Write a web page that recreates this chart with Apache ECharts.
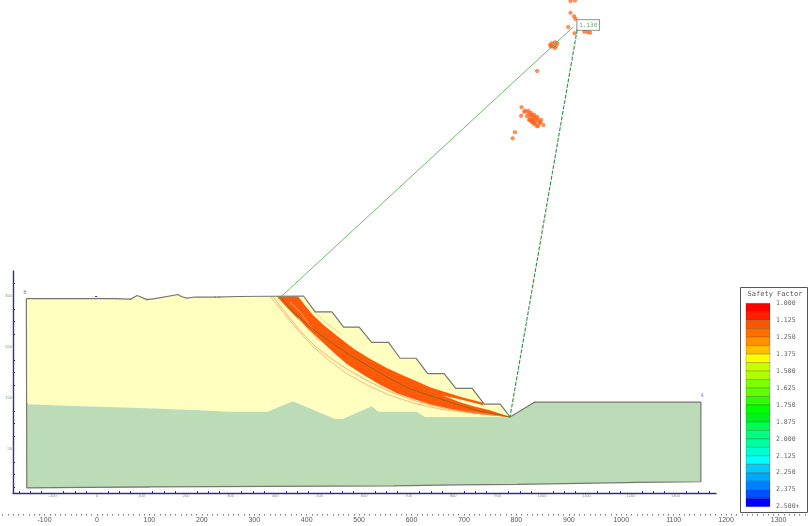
<!DOCTYPE html>
<html>
<head>
<meta charset="utf-8">
<title>Safety factor</title>
<style>
  html, body { margin: 0; padding: 0; background: #fff; }
  #chart { width: 810px; height: 526px; filter: blur(0.4px); }
</style>
<script src="https://cdn.jsdelivr.net/npm/echarts@6/dist/echarts.min.js"></script>
</head>
<body>
<div id="chart"></div>
<script>
// ground surface, left to right (model units)
const groundTop = [[-159,345],[34,345],[76,344],[90,351],[112,343],[130,345],[182,353],[189,349],[202,346],[220,348],[265,348],[317,349],[464,350],[490,319],[528,319],[554,289],[589,289],[617,259],[655,259],[681,228],[717,228],[743,198],[780,198],[806,169],[843,169],[870,138],[906,138],[928,113]];
const groundToe = [[928,113],[983,142],[1357,142]];
const groundBottom = [[1357,142],[1357,-14],[1220,-15],[1085,-17],[943,-19],[808,-20],[665,-22],[389,-23],[119,-24],[117,-26],[-158,-26],[-159,345]];
const layerTop = [[-158,138],[-68,135],[81,131],[231,126],[299,123],[383,123],[440,144],[535,109],[552,109],[617,134],[632,123],[718,123],[737,113],[928,113]];

// slip surfaces
const slipUpper = [[452,349],[467,332],[486,312],[509,293],[539,272],[576,247],[613,227],[651,209],[688,194],[726,180],[748,165],[771,157],[816,142],[846,134],[883,126],[928,113]];
const slipLower = [[876,117],[846,120],[816,124],[748,138],[711,148],[673,160],[636,176],[599,195],[561,217],[531,240],[501,264],[471,289],[445,311],[422,332],[404,349]];
const slipSpur = [[726,180],[748,171],[771,165],[822,151],[868,141],[868,136],[822,146],[771,156],[748,160]];
const outerArcA = [[389,349],[419,317],[449,285],[486,250],[524,222],[561,198],[606,176],[651,158],[711,140],[773,128],[928,113]];
const outerArcB = [[395,349],[425,316],[455,283],[492,250],[530,225],[567,204],[612,182],[657,163],[717,144],[780,130],[928,113]];
const streakA = [[452,307],[474,285],[501,260]];
const streakB = [[434,338],[456,319],[486,283]];
const streakC = [[486,323],[512,299],[550,274]];
const criticalArc = [[411,349],[441,319],[479,289],[524,260],[569,234],[613,211],[658,188],[703,168],[748,155],[778,146],[853,126],[928,113]];

// lines from the critical centre to the ends of the arc
const radiusLeft = [[414,349],[1070,877]];
const radiusRight = [[1079,872],[928,113]];
const centreLabel = [[1079,881]];
const centreText = '1.130';

// slip centres
const centres = [[1064,928],[1074,929],[1064,905],[1072,898],[1075,893],[1059,877],[1073,865],[1095,868],[1102,867],[1108,866],[1018,842],[1022,845],[1029,847],[1034,845],[1024,839],[1029,836],[1020,839],[1031,840],[989,791],[954,720],[962,713],[969,708],[977,705],[984,700],[992,695],[980,694],[973,696],[966,702],[984,689],[977,692],[996,690],[1003,685],[988,683],[953,703],[939,671],[934,659],[960,711],[969,713],[975,709],[982,705],[989,701],[998,695],[973,703],[980,699],[987,695],[994,689],[971,695],[982,687],[991,683],[978,691]];
const vertexDots = [[34,345],[43,345],[76,344],[112,343],[265,348],[274,348],[-158,138],[983,142]];
const endTags = [[-162,356,'8'],[1360,154,'4']];

// inner axes
const innerXMajor = [-100,0,100,200,300,400,500,600,700,800,900,1000,1100,1200,1300];
const innerXMinor = [-175,-150,-125,-75,-50,-25,25,50,75,125,150,175,225,250,275,325,350,375,425,450,475,525,550,575,625,650,675,725,750,775,825,850,875,925,950,975,1025,1050,1075,1125,1150,1175,1225,1250,1275,1325,1350,1375];
const innerYMajor = [50,150,250,350];
const innerYMinor = [-25,0,25,75,100,125,175,200,225,275,300,325,375];

// bottom ruler
const rulerLabels = [-100,0,100,200,300,400,500,600,700,800,900,1000,1100,1200,1300];

// legend
const factorEdges = [1,1.0625,1.125,1.1875,1.25,1.3125,1.375,1.4375,1.5,1.5625,1.625,1.6875,1.75,1.8125,1.875,1.9375,2,2.0625,2.125,2.1875,2.25,2.3125,2.375,2.4375,2.5];
const bandColors = ['#ff0000','#ff2000','#ff5500','#ff7000','#ff9000','#ffc000','#ffff00','#c8ff00','#b0ff00','#80ff00','#60ff00','#30ff00','#00ff00','#00f020','#00ff50','#00ff80','#00ffa0','#00ffd0','#00ffff','#00ccff','#00a8ff','#0080ff','#0050ff','#0000ff'];

const AXIS_BLUE = '#2f2f92';
const OUTLINE = '#77776f';
const SLIP = '#ff5a0a';

function polygon(points, color) {
  return {
    type: 'custom',
    xAxisIndex: 0,
    yAxisIndex: 0,
    silent: true,
    data: points,
    renderItem: function (params, api) {
      if (params.dataIndex !== 0) return;
      return {
        type: 'polygon',
        shape: { points: points.map(p => api.coord(p)) },
        style: { fill: color }
      };
    }
  };
}

function line(points, color, width, type) {
  return {
    type: 'line',
    xAxisIndex: 0,
    yAxisIndex: 0,
    silent: true,
    clip: false,
    symbol: 'none',
    data: points,
    lineStyle: { color: color, width: width, type: type || 'solid' }
  };
}

const hiddenAxis = { show: false };
const plainNumber = v => String(v);

const option = {
  animation: false,
  backgroundColor: '#fff',
  title: {
    text: 'Safety Factor',
    left: 775,
    top: 291,
    padding: 0,
    textAlign: 'center',
    textStyle: { fontFamily: 'DejaVu Sans Mono', fontSize: 7, fontWeight: 'normal', color: '#555' }
  },
  graphic: [{
    type: 'rect',
    z: 0,
    shape: { x: 740.5, y: 287.5, width: 67, height: 225 },
    style: { fill: '#fff', stroke: '#555', lineWidth: 1 }
  }],
  grid: [
    { left: 13, top: 271, width: 703, height: 222 },
    { left: 2.6, top: 513, width: 807.4, height: 1 },
    { left: 746, top: 303.3, width: 24, height: 203.4 }
  ],
  xAxis: [
    {
      gridIndex: 0, type: 'value', min: -189, max: 1391, position: 'bottom',
      splitLine: { show: false },
      axisLine: { onZero: false, lineStyle: { color: AXIS_BLUE, width: 1.4 } },
      axisTick: { inside: true, length: 2, customValues: innerXMinor, lineStyle: { color: AXIS_BLUE } },
      axisLabel: { show: false }
    },
    {
      gridIndex: 0, type: 'value', min: -189, max: 1391, position: 'bottom',
      splitLine: { show: false },
      axisLine: { show: false },
      axisTick: { length: 3, customValues: innerXMajor, lineStyle: { color: AXIS_BLUE } },
      axisLabel: { customValues: innerXMajor, margin: 1, fontSize: 4, color: '#888', fontFamily: 'Liberation Sans', formatter: plainNumber }
    },
    {
      gridIndex: 1, type: 'value', min: -180, max: 1360, interval: 10, position: 'bottom',
      splitLine: { show: false },
      axisLine: { show: false },
      axisTick: { length: 1.5, lineStyle: { color: '#777' } },
      axisLabel: { customValues: rulerLabels, margin: 3, fontSize: 7, color: '#555', fontFamily: 'Liberation Sans', formatter: plainNumber }
    },
    { gridIndex: 2, type: 'value', min: 0, max: 1, show: false }
  ],
  yAxis: [
    {
      gridIndex: 0, type: 'value', min: -36, max: 399, position: 'left',
      splitLine: { show: false },
      axisLine: { onZero: false, lineStyle: { color: AXIS_BLUE, width: 1.4 } },
      axisTick: { inside: true, length: 2, customValues: innerYMinor, lineStyle: { color: AXIS_BLUE } },
      axisLabel: { show: false }
    },
    {
      gridIndex: 0, type: 'value', min: -36, max: 399, position: 'left',
      splitLine: { show: false },
      axisLine: { show: false },
      axisTick: { length: 2, customValues: innerYMajor, lineStyle: { color: AXIS_BLUE } },
      axisLabel: { customValues: innerYMajor, margin: 1, fontSize: 4, color: '#888', fontFamily: 'Liberation Sans', formatter: plainNumber }
    },
    Object.assign({ gridIndex: 1, min: 0, max: 1 }, hiddenAxis),
    {
      gridIndex: 2, type: 'value', min: 1, max: 2.5, interval: 0.125, inverse: true, position: 'right',
      splitLine: { show: false },
      axisLine: { show: false },
      axisTick: { show: false },
      axisLabel: {
        margin: 6, fontSize: 6.5, color: '#666', fontFamily: 'DejaVu Sans Mono',
        formatter: v => v === 2.5 ? '2.500+' : v.toFixed(3)
      }
    }
  ],
  series: [
    polygon(groundTop.concat(layerTop.slice().reverse()), '#ffffc0'),
    polygon(layerTop.concat(groundToe, groundBottom), '#bcdcb8'),
    line(outerArcA, '#ff9a5a', 0.7),
    line(outerArcB, '#ff8a44', 0.7),
    polygon(slipUpper.concat(slipLower), SLIP),
    polygon(slipSpur, SLIP),
    line(streakA, '#ffb27a', 0.7),
    line(streakB, '#ffb27a', 0.7),
    line(streakC, '#ffb27a', 0.7),
    line(criticalArc, '#8a6a12', 1),
    line(groundTop.concat(groundToe, groundBottom), OUTLINE, 1.2),
    line(radiusLeft, '#5fae5f', 0.9),
    line(radiusRight, '#2f8f3f', 1.1, [4, 1.5]),
    {
      type: 'scatter',
      xAxisIndex: 0,
      yAxisIndex: 0,
      clip: false,
      silent: true,
      symbolSize: 3.6,
      data: centres,
      itemStyle: { color: 'rgba(255,95,20,0.85)', borderColor: '#ff5f14', borderWidth: 0.6 }
    },
    {
      type: 'scatter',
      xAxisIndex: 0,
      yAxisIndex: 0,
      clip: false,
      silent: true,
      symbolSize: 1.5,
      data: vertexDots,
      itemStyle: { color: '#444' }
    },
    {
      type: 'scatter',
      xAxisIndex: 0,
      yAxisIndex: 0,
      clip: false,
      silent: true,
      symbolSize: 0,
      data: endTags,
      label: {
        show: true, position: 'inside', fontSize: 5, color: '#4a5fa8',
        formatter: p => p.value[2]
      }
    },
    {
      type: 'scatter',
      xAxisIndex: 0,
      yAxisIndex: 0,
      clip: false,
      silent: true,
      symbolSize: 0,
      data: centreLabel,
      label: {
        show: true, position: 'right', distance: 0, fontSize: 6, color: '#4f8f4f',
        fontFamily: 'DejaVu Sans Mono', backgroundColor: '#fff', borderColor: '#666', borderWidth: 0.8,
        padding: [2, 2, 2, 2], formatter: () => centreText
      }
    },
    {
      type: 'custom',
      xAxisIndex: 3,
      yAxisIndex: 3,
      silent: true,
      data: bandColors.map((c, i) => ({ value: [factorEdges[i], factorEdges[i + 1]], itemStyle: { color: c } })),
      encode: { y: [0, 1] },
      renderItem: function (params, api) {
        const top = api.coord([0, api.value(0)]);
        const bottom = api.coord([1, api.value(1)]);
        return {
          type: 'rect',
          shape: { x: top[0], y: top[1], width: bottom[0] - top[0], height: bottom[1] - top[1] },
          style: { fill: bandColors[params.dataIndex], stroke: 'rgba(40,30,0,0.45)', lineWidth: 0.5 }
        };
      }
    }
  ]
};

const chart = echarts.init(document.getElementById('chart'));
chart.setOption(option);
</script>
</body>
</html>
